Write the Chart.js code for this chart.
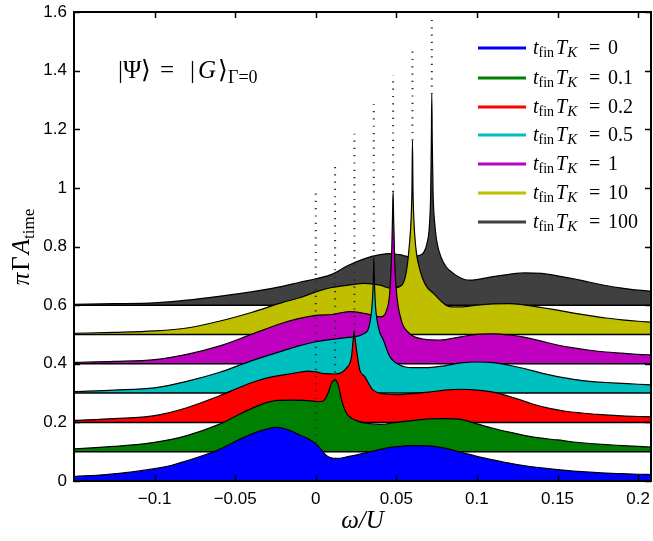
<!DOCTYPE html>
<html>
<head>
<meta charset="utf-8">
<script src="https://cdn.jsdelivr.net/npm/chart.js@4.4.1/dist/chart.umd.min.js"></script>
<style>
html, body { margin: 0; padding: 0; background: #fff; }
#wrap { width: 653px; height: 541px; }
</style>
</head>
<body>
<div id="wrap"><canvas id="grafico" width="653" height="541"></canvas></div>
<script>
// Axis ranges and ticks
const xMin = -0.15, xMax = 0.208;
const xTicks = [-0.1, -0.05, 0, 0.05, 0.1, 0.15, 0.2];
const yTicks = [0, 0.2, 0.4, 0.6, 0.8, 1, 1.2, 1.4, 1.6];

// Series: t_fin T_K values, offsets and colours
const tValues = ["0", "0.1", "0.2", "0.5", "1", "10", "100"];
const offsets = [0, 0.1, 0.2, 0.3, 0.4, 0.5, 0.6];
const colors = ["#0000ff", "#008000", "#ff0000", "#00bfbf", "#bf00bf", "#bfbf00", "#404040"];

// Curves (omega/U, pi Gamma A_time incl. offset)
const xs0 = [-0.15,-0.13,-0.115,-0.1,-0.09,-0.08,-0.07,-0.06,-0.05,-0.04,-0.03,-0.025,-0.02,-0.015,-0.01,-0.005,0,0.003,0.006,0.009,0.013,0.02,0.03,0.04,0.05,0.06,0.07,0.08,0.09,0.1,0.11,0.12,0.13,0.14,0.15,0.16,0.17,0.18,0.19,0.2,0.208];
const ys0 = [0.015,0.022,0.03,0.042,0.053,0.069,0.087,0.107,0.135,0.16,0.178,0.183,0.18,0.17,0.157,0.145,0.127,0.11,0.09,0.08,0.077,0.083,0.095,0.108,0.117,0.121,0.12,0.112,0.098,0.084,0.072,0.061,0.052,0.045,0.039,0.034,0.03,0.027,0.025,0.023,0.022];

const xs1 = [-0.15,-0.125,-0.1,-0.08,-0.06,-0.05,-0.04,-0.03,-0.024,-0.015,-0.007,0.0015,0.0045,0.0077,0.0098,0.0118,0.0139,0.016,0.019,0.022,0.025,0.03,0.04,0.05,0.06,0.07,0.08,0.09,0.1,0.11,0.12,0.13,0.14,0.15,0.16,0.17,0.18,0.19,0.2,0.208];
const ys1 = [0.11,0.118,0.132,0.155,0.193,0.22,0.247,0.268,0.275,0.276,0.275,0.271,0.272,0.3,0.334,0.345,0.328,0.277,0.232,0.215,0.207,0.198,0.193,0.2,0.206,0.212,0.213,0.21,0.195,0.18,0.167,0.155,0.146,0.14,0.133,0.128,0.124,0.121,0.118,0.116];

const xs2 = [-0.15,-0.125,-0.1,-0.08,-0.06,-0.04,-0.03,-0.02,-0.01,-0.005,0,0.006,0.012,0.016,0.019,0.0222,0.0232,0.0238,0.0245,0.0259,0.0273,0.0304,0.0356,0.045,0.052,0.06,0.07,0.08,0.09,0.1,0.11,0.125,0.135,0.145,0.155,0.165,0.175,0.19,0.2,0.208];
const ys2 = [0.207,0.213,0.223,0.25,0.29,0.335,0.352,0.362,0.371,0.375,0.372,0.366,0.365,0.37,0.385,0.424,0.48,0.51,0.48,0.424,0.379,0.356,0.31,0.296,0.295,0.298,0.303,0.31,0.313,0.31,0.303,0.28,0.262,0.248,0.238,0.232,0.227,0.222,0.22,0.219];

const xs3 = [-0.15,-0.125,-0.1,-0.08,-0.06,-0.04,-0.02,-0.01,0,0.01,0.02,0.03,0.0335,0.0352,0.0358,0.036,0.0363,0.0368,0.0388,0.042,0.046,0.052,0.06,0.07,0.08,0.09,0.1,0.11,0.12,0.13,0.14,0.15,0.16,0.17,0.18,0.19,0.2,0.208];
const ys3 = [0.305,0.31,0.318,0.34,0.37,0.41,0.445,0.462,0.475,0.483,0.49,0.503,0.538,0.62,0.7,0.76,0.7,0.62,0.527,0.48,0.424,0.396,0.387,0.387,0.393,0.403,0.406,0.404,0.395,0.383,0.368,0.356,0.347,0.34,0.336,0.333,0.33,0.328];

const xs4 = [-0.15,-0.125,-0.1,-0.08,-0.06,-0.04,-0.02,-0.01,0,0.01,0.021,0.03,0.04,0.044,0.046,0.0472,0.0478,0.048,0.0483,0.049,0.05,0.053,0.058,0.067,0.077,0.09,0.1,0.11,0.12,0.13,0.14,0.15,0.16,0.17,0.18,0.19,0.2,0.208];
const ys4 = [0.405,0.408,0.414,0.432,0.46,0.5,0.54,0.555,0.565,0.568,0.578,0.572,0.56,0.583,0.65,0.8,0.95,0.986,0.9,0.75,0.65,0.55,0.504,0.484,0.481,0.492,0.5,0.502,0.498,0.49,0.477,0.464,0.454,0.446,0.44,0.436,0.432,0.43];

const xs5 = [-0.15,-0.125,-0.1,-0.08,-0.06,-0.04,-0.02,-0.01,0,0.01,0.02,0.03,0.04,0.046,0.052,0.056,0.058,0.0592,0.0597,0.06,0.0603,0.0608,0.062,0.0646,0.068,0.073,0.083,0.09,0.1,0.11,0.12,0.13,0.14,0.15,0.16,0.17,0.18,0.19,0.2,0.208];
const ys5 = [0.504,0.507,0.512,0.522,0.545,0.575,0.61,0.625,0.645,0.66,0.668,0.674,0.668,0.658,0.663,0.708,0.8,0.9,1.0,1.162,1.0,0.9,0.8,0.72,0.67,0.64,0.595,0.594,0.6,0.604,0.605,0.6,0.592,0.583,0.573,0.564,0.556,0.55,0.545,0.542];

const xs6 = [-0.15,-0.125,-0.1,-0.08,-0.06,-0.04,-0.02,-0.01,0,0.01,0.02,0.03,0.04,0.046,0.052,0.058,0.063,0.067,0.069,0.0705,0.0713,0.0717,0.072,0.0723,0.0728,0.0738,0.075,0.078,0.081,0.085,0.089,0.095,0.1,0.11,0.12,0.13,0.14,0.15,0.16,0.17,0.18,0.19,0.2,0.208];
const ys6 = [0.603,0.605,0.608,0.617,0.63,0.645,0.665,0.678,0.69,0.705,0.735,0.758,0.772,0.776,0.772,0.765,0.768,0.78,0.81,0.87,0.98,1.15,1.32,1.15,0.98,0.88,0.82,0.76,0.73,0.71,0.695,0.685,0.687,0.697,0.705,0.71,0.708,0.7,0.69,0.678,0.667,0.658,0.651,0.648];

const curveX = [xs0, xs1, xs2, xs3, xs4, xs5, xs6];
const curveY = [ys0, ys1, ys2, ys3, ys4, ys5, ys6];

// Dotted verticals at the peaks
const peakX = [0, 0.012, 0.024, 0.036, 0.048, 0.06, 0.072];
const dotBottom = [0.13, 0.345, 0.51, 0.76, 0.986, 1.162, 1.32];
const dotTop = [0.985, 1.085, 1.185, 1.285, 1.385, 1.485, 1.585];

let datasets = [];
for (let k = 0; k < 7; k++) {
  // filled curve, lower k on top
  datasets.push({
    data: curveX[k].map((x, i) => ({x: x, y: curveY[k][i]})),
    borderColor: "#000",
    borderWidth: 1.2,
    backgroundColor: colors[k],
    fill: {value: offsets[k]},
    pointRadius: 0,
    cubicInterpolationMode: "monotone",
    order: 2 * k + 2
  });
  // baseline of the filled area
  datasets.push({
    data: [{x: xMin, y: offsets[k]}, {x: xMax, y: offsets[k]}],
    borderColor: "#000",
    borderWidth: 1.5,
    fill: false,
    pointRadius: 0,
    order: 2 * k + 1
  });
  datasets.push({
    data: [{x: peakX[k], y: dotBottom[k]}, {x: peakX[k], y: dotTop[k]}],
    borderColor: "#2a2a2a",
    borderWidth: 2,
    borderDash: [1.2, 6.1],
    fill: false,
    pointRadius: 0,
    order: 0
  });
}

function fmtTick(v) {
  let s = String(Math.round(v * 1000) / 1000);
  return s.replace("-", "\u2212");
}

// frame, inward ticks, y title, legend and annotation
const extras = {
  id: "extras",
  afterDatasetsDraw(chart) {
    const ctx = chart.ctx;
    const a = chart.chartArea;
    const sx = chart.scales.x, sy = chart.scales.y;
    ctx.save();
    ctx.strokeStyle = "#000";
    ctx.lineWidth = 1.5;
    ctx.beginPath();
    xTicks.forEach(v => {
      let px = Math.round(sx.getPixelForValue(v)) + 0.5;
      ctx.moveTo(px, a.bottom); ctx.lineTo(px, a.bottom - 6);
      ctx.moveTo(px, a.top); ctx.lineTo(px, a.top + 6);
    });
    yTicks.forEach(v => {
      let py = Math.round(sy.getPixelForValue(v)) + 0.5;
      ctx.moveTo(a.left, py); ctx.lineTo(a.left + 6, py);
      ctx.moveTo(a.right, py); ctx.lineTo(a.right - 6, py);
    });
    ctx.stroke();
    ctx.lineWidth = 2;
    ctx.strokeRect(a.left, a.top, a.right - a.left, a.bottom - a.top);
    ctx.restore();
  },
  afterDraw(chart) {
    const ctx = chart.ctx;
    ctx.save();
    ctx.fillStyle = "#000";
    ctx.textBaseline = "alphabetic";

    // y axis title: pi Gamma A_time, centred on the plot
    ctx.font = "italic 25px 'Liberation Serif'";
    let wPi = ctx.measureText("\u03c0").width, wA = ctx.measureText("A").width;
    ctx.font = "25px 'Liberation Serif'";
    let wG = ctx.measureText("\u0393").width;
    ctx.font = "17px 'Liberation Serif'";
    let wT = ctx.measureText("time").width;
    let total = wPi + wG + wA + wT + 4;
    ctx.save();
    ctx.translate(29, 247 + total / 2);
    ctx.rotate(-Math.PI / 2);
    let x = 0;
    ctx.font = "italic 25px 'Liberation Serif'";
    ctx.fillText("\u03c0", x, 0); x += wPi + 2;
    ctx.font = "25px 'Liberation Serif'";
    ctx.fillText("\u0393", x, 0); x += wG + 2;
    ctx.font = "italic 25px 'Liberation Serif'";
    ctx.fillText("A", x, 0); x += wA;
    ctx.font = "17px 'Liberation Serif'";
    ctx.fillText("time", x, 5);
    ctx.restore();

    // annotation |Psi> = |G>_{Gamma=0}
    let ay = 78;
    ctx.font = "25px 'Liberation Serif'";
    ctx.fillText("|\u03a8\u27e9", 118, ay);
    ctx.fillText("=", 160, ay);
    ctx.fillText("|", 190, ay);
    ctx.font = "italic 25px 'Liberation Serif'";
    ctx.fillText("G", 198, ay);
    ctx.font = "25px 'Liberation Serif'";
    ctx.fillText("\u27e9", 218, ay);
    ctx.font = "18px 'Liberation Serif'";
    ctx.fillText("\u0393=0", 228, ay + 5);

    // legend
    const rowY = [48, 78, 107, 135, 164, 193, 222];
    for (let k = 0; k < 7; k++) {
      let y = rowY[k];
      ctx.strokeStyle = colors[k];
      ctx.lineWidth = 3;
      ctx.beginPath();
      ctx.moveTo(478, y); ctx.lineTo(526, y);
      ctx.stroke();
      let tx = 533, by = y + 6;
      ctx.font = "italic 20px 'Liberation Serif'";
      ctx.fillText("t", tx, by); tx += ctx.measureText("t").width;
      ctx.font = "14px 'Liberation Serif'";
      ctx.fillText("fin", tx, by + 3); tx += ctx.measureText("fin").width + 2;
      ctx.font = "italic 20px 'Liberation Serif'";
      ctx.fillText("T", tx, by); tx += ctx.measureText("T").width;
      ctx.font = "italic 15px 'Liberation Serif'";
      ctx.fillText("K", tx, by + 3);
      ctx.font = "20px 'Liberation Serif'";
      ctx.fillText("=", 589, by);
      ctx.fillText(tValues[k], 608, by);
    }
    ctx.restore();
  }
};

new Chart(document.getElementById("grafico"), {
  type: "line",
  data: {datasets: datasets},
  options: {
    responsive: false,
    animation: false,
    events: [],
    layout: {padding: {top: 12, right: 2, left: 0, bottom: 0}},
    plugins: {legend: {display: false}, tooltip: {enabled: false}},
    scales: {
      x: {
        type: "linear",
        min: xMin,
        max: xMax,
        afterBuildTicks: s => { s.ticks = xTicks.map(v => ({value: v})); },
        afterFit: s => { s.height = 60; s.paddingLeft = 0; s.paddingRight = 0; },
        grid: {display: false, drawTicks: false},
        border: {display: false},
        ticks: {
          color: "#000",
          padding: 8,
          maxRotation: 0,
          autoSkip: false,
          font: {family: "'Liberation Sans', Arial, sans-serif", size: 17},
          callback: v => fmtTick(v)
        },
        title: {
          display: true,
          text: "\u03c9/U",
          color: "#000",
          padding: {top: 0, bottom: 5},
          font: {family: "'Liberation Serif', serif", size: 25, style: "italic"}
        }
      },
      y: {
        min: 0,
        max: 1.6,
        afterBuildTicks: s => { s.ticks = yTicks.map(v => ({value: v})); },
        afterFit: s => { s.width = 74; s.paddingTop = 0; s.paddingBottom = 0; },
        grid: {display: false, drawTicks: false},
        border: {display: false},
        ticks: {
          color: "#000",
          padding: 7,
          font: {family: "'Liberation Sans', Arial, sans-serif", size: 17},
          callback: v => fmtTick(v)
        }
      }
    }
  },
  plugins: [extras]
});
</script>
</body>
</html>
